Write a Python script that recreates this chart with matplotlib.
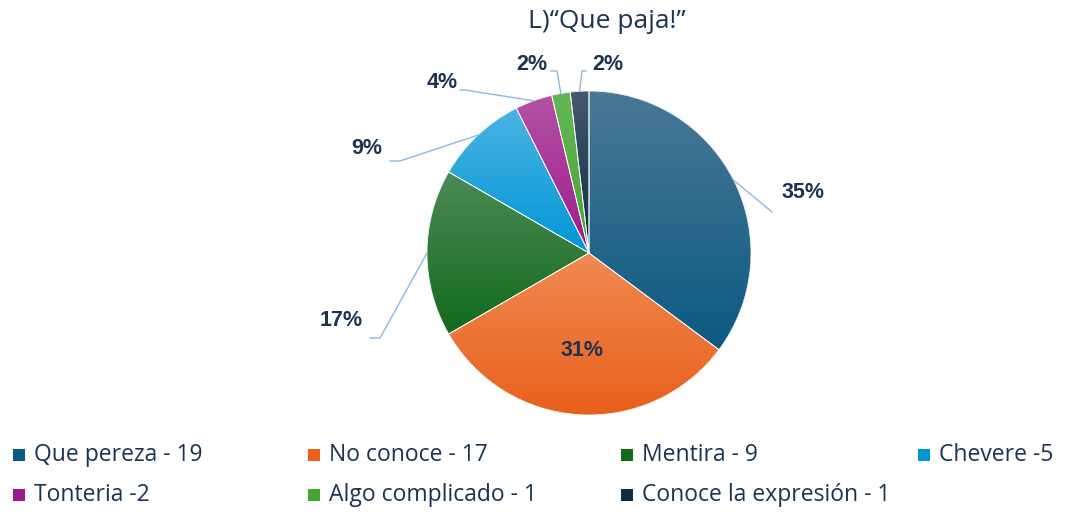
import numpy as np
import matplotlib.pyplot as plt
from matplotlib.colors import LinearSegmentedColormap
from matplotlib.patches import Rectangle, Wedge

title = "L)\u201cQue paja!\u201d"
categories = ["Que pereza - 19", "No conoce - 17", "Mentira - 9", "Chevere -5",
              "Tonteria -2", "Algo complicado - 1", "Conoce la expresión - 1"]
counts = [19, 17, 9, 5, 2, 1, 1]
colors_top = ["#4a7896", "#f08a52", "#4d8a55", "#4cb3e3", "#b352a6", "#66b658", "#455a6c"]
colors_bottom = ["#0b5a82", "#e8601c", "#126a1d", "#0096d6", "#9b1b8a", "#45a532", "#0c2b45"]

W, H = 1078, 514
TXT = "#1b3350"
LINE = "#8fb8e0"
plt.rcParams["font.family"] = ["Open Sans", "DejaVu Sans"]


def py(y):
    # image y (down) -> axes y (up)
    return H - y


fig = plt.figure(figsize=(W / 100, H / 100), dpi=100)
ax = fig.add_axes([0, 0, 1, 1])

cx, cy, r = 589, py(253), 162
wedges, _ = ax.pie(counts, center=(cx, cy), radius=r, startangle=90,
                   counterclock=False, colors=colors_bottom,
                   wedgeprops=dict(linewidth=0))

# vertical gradient inside each slice
grad = np.linspace(0, 1, 256).reshape(-1, 1)
for w, ct, cb in zip(wedges, colors_top, colors_bottom):
    x0, y0, x1, y1 = w.get_path().get_extents().extents
    cmap = LinearSegmentedColormap.from_list("g", [ct, cb])
    im = ax.imshow(grad, extent=(x0, x1, y0, y1), origin="upper",
                   cmap=cmap, aspect="auto", zorder=2)
    im.set_clip_path(w)
    ax.add_patch(Wedge((cx, cy), r, w.theta1, w.theta2, facecolor="none",
                       edgecolor="white", linewidth=0.6, zorder=3))

# percentage labels and leader lines
total = sum(counts)
label_xy = [(803, 193), (582, 350), (341, 320), (367, 148), (442, 83), (532, 65), (608, 65)]
elbows = [[(772, 212)], None, [(380, 338), (370, 338)], [(400, 161), (390, 161)],
          [(465, 90), (460, 90)], [(557, 71), (551, 71)], [(582, 71), (586, 71)]]
for w, c, (lx, ly), elb in zip(wedges, counts, label_xy, elbows):
    ax.text(lx, py(ly), f"{round(c / total * 100)}%", ha="center", va="center",
            fontsize=15.5, fontweight="bold", color=TXT, zorder=5,
            family=["Liberation Sans", "DejaVu Sans"])
    if elb is None:
        continue
    mid = np.deg2rad((w.theta1 + w.theta2) / 2)
    xs = [cx + r * np.cos(mid)] + [p[0] for p in elb]
    ys = [cy + r * np.sin(mid)] + [py(p[1]) for p in elb]
    ax.plot(xs, ys, color=LINE, lw=1, zorder=4)

ax.text(607, py(22), title, ha="center", va="center", fontsize=19, color=TXT)

# legend
col_x = [13, 308, 621, 918]
row_y = [455, 495]
for i, (lab, col) in enumerate(zip(categories, colors_bottom)):
    x = col_x[i % 4]
    y = row_y[i // 4]
    ax.add_patch(Rectangle((x, py(y) - 6), 12, 12, facecolor=col, edgecolor="none"))
    ax.text(x + 21, py(y), lab, ha="left", va="center", fontsize=16.5, color=TXT)

ax.set_xlim(0, W)
ax.set_ylim(0, H)
ax.axis("off")

fig.savefig("out.png", dpi=100)
